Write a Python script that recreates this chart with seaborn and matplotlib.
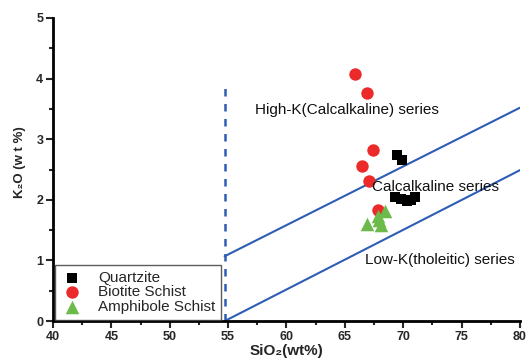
import matplotlib
matplotlib.use("Agg")
import matplotlib.pyplot as plt
import seaborn as sns
import pandas as pd
import numpy as np

# --- data ---
quartzite_sio2 = [69.5, 69.9, 69.3, 69.8, 70.3, 70.7, 71.0]
quartzite_k2o = [2.74, 2.66, 2.05, 2.02, 1.98, 2.00, 2.04]
biotite_sio2 = [65.9, 66.9, 67.4, 66.5, 67.1, 67.85]
biotite_k2o = [4.07, 3.77, 2.82, 2.56, 2.31, 1.83]
amphibole_sio2 = [66.9, 67.8, 68.4, 68.1, 67.9]
amphibole_k2o = [1.61, 1.74, 1.81, 1.58, 1.66]

groups = ["Quartzite", "Biotite Schist", "Amphibole Schist"]

# boundary lines
upper_x = [54.7, 80]
upper_y = [1.07, 3.52]
lower_x = [54.7, 80]
lower_y = [0.0, 2.49]
div_x = [54.7, 54.7]
div_y = [0.0, 3.95]

labels_text = ["High-K(Calcalkaline) series", "Calcalkaline series", "Low-K(tholeitic) series"]
labels_x = [57.3, 67.3, 66.7]
labels_y = [3.48, 2.22, 1.00]

sns.set_theme(style="ticks")
plt.rcParams['font.family'] = ['Liberation Sans', 'DejaVu Sans']

df = pd.DataFrame({
    "SiO2": quartzite_sio2 + biotite_sio2 + amphibole_sio2,
    "K2O": quartzite_k2o + biotite_k2o + amphibole_k2o,
    "group": [groups[0]] * len(quartzite_sio2) + [groups[1]] * len(biotite_sio2) + [groups[2]] * len(amphibole_sio2),
})

fig = plt.figure(figsize=(5.3, 3.6), dpi=100)
ax = fig.add_axes([0.1, 0.108, 0.881, 0.842])

blue = "#2d5db5"
ax.plot(upper_x, upper_y, color=blue, lw=1.5, zorder=1)
ax.plot(lower_x, lower_y, color=blue, lw=1.5, zorder=1)
ax.plot(div_x, div_y, color=blue, lw=1.8, ls=(0, (3, 3)), zorder=1)

palette = {groups[0]: "black", groups[1]: "#ec2a2a", groups[2]: "#6cbb4a"}
markers = {groups[0]: "s", groups[1]: "o", groups[2]: "^"}
sizes = {groups[0]: 55, groups[1]: 80, groups[2]: 95}
for g in groups:
    sub = df[df.group == g]
    sns.scatterplot(data=sub, x="SiO2", y="K2O", color=palette[g], marker=markers[g],
                    s=sizes[g], linewidth=0, ax=ax, label=g, zorder=3)

for t, x, y in zip(labels_text, labels_x, labels_y):
    ax.text(x, y, t, fontsize=11, va="center", ha="left", color="#111111", zorder=4)

ax.set_xlim(40, 80)
ax.set_ylim(0, 5)
ax.set_xticks([40, 45, 50, 55, 60, 65, 70, 75, 80])
ax.set_yticks([0, 1, 2, 3, 4, 5])
ax.set_xticks(np.arange(42.5, 80, 5), minor=True)
ax.set_yticks(np.arange(0.5, 5, 1), minor=True)
ax.tick_params(axis="both", which="major", length=5, width=1.5, labelsize=9, direction="out", pad=2)
ax.tick_params(axis="both", which="minor", length=3, width=1.5, direction="out")
for lab in ax.get_xticklabels() + ax.get_yticklabels():
    lab.set_fontweight("bold")

for s in ["top", "right"]:
    ax.spines[s].set_visible(False)
for s in ["left", "bottom"]:
    ax.spines[s].set_linewidth(2)
    ax.spines[s].set_color("black")

ax.set_xlabel("SiO\u2082(wt%)", fontsize=11, fontweight="bold", labelpad=1)
ax.set_ylabel("K\u2082O (w t %)", fontsize=9.5, fontweight="bold", labelpad=4)
ax.yaxis.set_label_coords(-0.058, 0.525)

leg = ax.legend(loc="lower left", bbox_to_anchor=(0.004, 0.005), fontsize=11, frameon=True,
                fancybox=False, edgecolor="#333333", borderpad=0.35, handletextpad=0.9,
                labelspacing=0.05, borderaxespad=0, handlelength=1.6)
leg.get_frame().set_linewidth(1.0)

fig.savefig("out.png", dpi=100)
